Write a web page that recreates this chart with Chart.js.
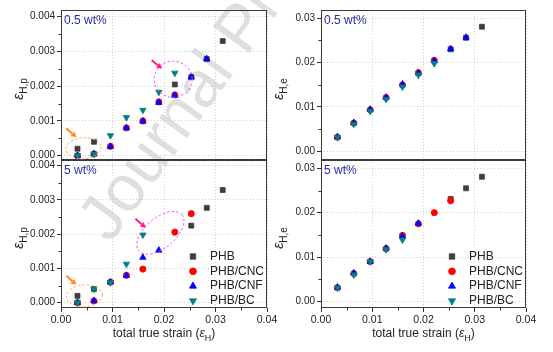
<!DOCTYPE html>
<html lang="en">
<head>
<meta charset="UTF-8">
<title>Hencky strain components</title>
<script src="https://cdn.jsdelivr.net/npm/chart.js"></script>
<style>
  body { margin: 0; background: #fff; }
  #wrap { position: relative; width: 553px; height: 352px; overflow: hidden; }
  #wrap canvas { position: absolute; }
</style>
</head>
<body>
<div id="wrap">
  <canvas id="mark" width="553" height="352" style="left:0;top:0"></canvas>
  <canvas id="tl" width="285" height="170" style="left:0;top:0"></canvas>
  <canvas id="bl" width="285" height="202" style="left:0;top:150px"></canvas>
  <canvas id="tr" width="281" height="170" style="left:272px;top:0"></canvas>
  <canvas id="br" width="281" height="202" style="left:272px;top:150px"></canvas>
</div>
<script>
// total true strain at each test step
const strain = [0.0032, 0.0064, 0.0096, 0.0127, 0.0159, 0.0190, 0.0221, 0.0253, 0.0283, 0.0314];
const seriesNames = ['PHB', 'PHB/CNC', 'PHB/CNF', 'PHB/BC'];

// plastic part, 0.5 wt%
const plasticLowPHB = [0.0002, 0.0004, null, null, null, null, 0.00205, 0.00226, 0.00278, 0.0033];
const plasticLowCNC = [0.0, 0.00005, 0.00027, 0.0008, 0.001, 0.00155, 0.00175, null, null, null];
const plasticLowCNF = [0.0, 0.00005, 0.00026, 0.0008, 0.00099, 0.00153, 0.00173, 0.00227, 0.00279, null];
const plasticLowBC  = [0.0, 0.00005, 0.00058, 0.0011, 0.00131, 0.00183, 0.00238, null, null, null];

// plastic part, 5 wt%
const plasticHighPHB = [0.0002, 0.0004, null, null, null, null, null, 0.00225, 0.00277, 0.00329];
const plasticHighCNC = [0.0, 0.00005, 0.0006, 0.0008, 0.00098, null, 0.00206, 0.0026, null, null];
const plasticHighCNF = [0.0, 0.00006, 0.0006, 0.00079, 0.00132, 0.00153, null, null, null, null];
const plasticHighBC  = [0.0, 0.0004, 0.00059, 0.00113, 0.00198, null, null, null, null, null];

// elastic part, 0.5 wt%
const elasticLowPHB = [null, null, null, null, null, null, null, 0.0230, 0.0256, 0.0281];
const elasticLowCNC = [0.0031, 0.0063, 0.0093, 0.0121, 0.0149, 0.0177, 0.0205, null, null, null];
const elasticLowCNF = [0.0032, 0.0064, 0.0094, 0.0121, 0.0151, 0.0176, 0.0204, 0.0231, 0.0257, null];
const elasticLowBC  = [0.0031, 0.0061, 0.0090, 0.0117, 0.0145, 0.0172, 0.0198, null, null, null];

// elastic part, 5 wt%
const elasticHighPHB = [null, null, null, null, null, null, null, 0.0231, 0.0255, 0.0281];
const elasticHighCNC = [0.0031, 0.0063, 0.0090, 0.0119, 0.0149, 0.0175, 0.0200, 0.0227, null, null];
const elasticHighCNF = [0.0032, 0.0064, 0.0090, 0.0120, 0.0147, 0.0176, null, null, null, null];
const elasticHighBC  = [0.0031, 0.0060, 0.0090, 0.0117, 0.0139, null, null, null, null, null];

const FONT = '"Liberation Sans", Arial, sans-serif';
const looks = [
  { color: '#3d3d3d', style: 'rect', radius: 3.5, rotation: 0, order: 4 },
  { color: '#ff0000', style: 'circle', radius: 3.1, rotation: 0, order: 3 },
  { color: '#0000ff', style: 'triangle', radius: 3.7, rotation: 0, order: 2 },
  { color: '#008080', style: 'triangle', radius: 3.7, rotation: 180, order: 1 }
];

function pts(vals) {
  return strain.map((x, i) => ({ x: x, y: vals[i] })).filter(p => p.y !== null);
}

// watermark
(function () {
  const ctx = document.getElementById('mark').getContext('2d');
  ctx.save();
  ctx.translate(110, 244);
  ctx.rotate(-54 * Math.PI / 180);
  ctx.font = '65px ' + FONT;
  ctx.fillStyle = '#dfdfdf';
  ctx.fillText('Journal Pre-proof', 0, 0);
  ctx.restore();
})();

function arrow(ctx, x1, y1, x2, y2, color) {
  const ang = Math.atan2(y2 - y1, x2 - x1), head = 5.5, half = 3;
  const bx = x2 - head * Math.cos(ang), by = y2 - head * Math.sin(ang);
  ctx.setLineDash([]);
  ctx.strokeStyle = color;
  ctx.fillStyle = color;
  ctx.lineWidth = 2;
  ctx.beginPath();
  ctx.moveTo(x1, y1);
  ctx.lineTo(bx, by);
  ctx.stroke();
  ctx.beginPath();
  ctx.moveTo(x2, y2);
  ctx.lineTo(bx + half * Math.sin(ang), by - half * Math.cos(ang));
  ctx.lineTo(bx - half * Math.sin(ang), by + half * Math.cos(ang));
  ctx.closePath();
  ctx.fill();
}

// draws subscripted epsilon, e.g. eps_{H,p}
function epsText(ctx, pre, sub, post, size, x, y) {
  const main = size + 'px ' + FONT, ital = 'italic ' + size + 'px ' + FONT, small = Math.round(size * 0.72) + 'px ' + FONT;
  ctx.font = main; const w0 = ctx.measureText(pre).width;
  ctx.font = ital; const w1 = ctx.measureText('\u03b5').width;
  ctx.font = small; const w2 = ctx.measureText(sub).width;
  ctx.font = main; const w3 = ctx.measureText(post).width;
  let cx = x - (w0 + w1 + w2 + w3) / 2;
  ctx.textAlign = 'left';
  ctx.textBaseline = 'alphabetic';
  ctx.font = main; ctx.fillText(pre, cx, y); cx += w0;
  ctx.font = ital; ctx.fillText('\u03b5', cx, y); cx += w1;
  ctx.font = small; ctx.fillText(sub, cx, y + size * 0.3); cx += w2;
  ctx.font = main; ctx.fillText(post, cx, y);
}

const panelPlugin = {
  id: 'panel',
  beforeDatasetsDraw(chart, args, o) {
    const { ctx, chartArea: a } = chart;
    const x = chart.scales.x, y = chart.scales.y;
    ctx.save();
    ctx.strokeStyle = '#333';
    ctx.lineWidth = 1;
    ctx.setLineDash([]);
    ctx.beginPath();
    for (let v = o.yMinor; v < y.max; v += o.yMinor * 2) {
      const py = Math.round(y.getPixelForValue(v)) + 0.5;
      ctx.moveTo(a.left, py);
      ctx.lineTo(a.left - 2.5, py);
    }
    if (o.bottom) {
      for (let v = 0.005; v < x.max; v += 0.01) {
        const px = Math.round(x.getPixelForValue(v)) + 0.5;
        ctx.moveTo(px, a.bottom);
        ctx.lineTo(px, a.bottom + 2.5);
      }
    }
    ctx.stroke();
    ctx.strokeStyle = '#3a3a3a';
    ctx.strokeRect(a.left + 0.5, a.top + 0.5, a.right - a.left - 1, a.bottom - a.top - 1);
    ctx.restore();
  },
  afterDatasetsDraw(chart, args, o) {
    const { ctx, chartArea: a } = chart;
    const x = chart.scales.x, y = chart.scales.y;
    ctx.save();
    // annotations
    (o.notes || []).forEach(n => {
      const cx = x.getPixelForValue(n.x), cy = y.getPixelForValue(n.y);
      ctx.setLineDash([2.5, 2]);
      ctx.strokeStyle = n.ring;
      ctx.lineWidth = 1;
      ctx.beginPath();
      ctx.ellipse(cx, cy, n.rx, n.ry, n.rot * Math.PI / 180, 0, Math.PI * 2);
      ctx.stroke();
      arrow(ctx, cx + n.arrow[0], cy + n.arrow[1], cx + n.arrow[2], cy + n.arrow[3], n.color);
    });
    // panel label
    ctx.fillStyle = '#2a2aa8';
    ctx.font = '12px ' + FONT;
    ctx.textAlign = 'left';
    ctx.textBaseline = 'middle';
    ctx.fillText(o.label, a.left + 3, a.top + 11);
    // y title
    ctx.fillStyle = '#222';
    ctx.save();
    ctx.translate(o.yTitleX, (a.top + a.bottom) / 2 + 4);
    ctx.rotate(-Math.PI / 2);
    epsText(ctx, '', o.ySub, '', 14, 0, 0);
    ctx.restore();
    if (o.bottom) {
      epsText(ctx, 'total true strain (', 'H', ')', 12, (a.left + a.right) / 2, a.bottom + 29);
      // legend
      seriesNames.forEach((name, k) => {
        const lk = looks[k];
        const ly = a.top + 96.5 + k * 14.8;
        ctx.fillStyle = lk.color;
        ctx.strokeStyle = lk.color;
        ctx.lineWidth = 0.8;
        Chart.helpers.drawPoint(ctx, { pointStyle: lk.style, radius: lk.radius * 1.1, rotation: lk.rotation, borderWidth: 0.8 }, a.right - 74, ly);
        ctx.fillStyle = '#222';
        ctx.font = '12px ' + FONT;
        ctx.textBaseline = 'middle';
        ctx.fillText(name, a.right - 57, ly);
      });
    }
    ctx.restore();
  }
};

function makeChart(id, series, cfg) {
  const datasets = series.map((vals, k) => ({
    label: seriesNames[k],
    data: pts(vals),
    pointStyle: looks[k].style,
    pointRadius: looks[k].radius,
    pointRotation: looks[k].rotation,
    backgroundColor: looks[k].color,
    borderColor: looks[k].color,
    borderWidth: 0.8,
    order: looks[k].order
  }));
  return new Chart(document.getElementById(id), {
    type: 'scatter',
    data: { datasets: datasets },
    options: {
      responsive: false,
      animation: false,
      events: [],
      layout: { padding: { top: 10, right: cfg.padRight, bottom: 0, left: 0 } },
      plugins: {
        legend: { display: false },
        tooltip: { enabled: false },
        panel: cfg.panel
      },
      scales: {
        x: {
          type: 'linear', min: 0, max: 0.04,
          afterFit: s => { s.height = cfg.xHeight; s.paddingLeft = 0; s.paddingRight = 0; },
          ticks: {
            display: cfg.panel.bottom, stepSize: 0.01, includeBounds: false, maxRotation: 0,
            padding: 2, color: '#222', font: { family: FONT, size: 10.5 },
            callback: v => v.toFixed(2)
          },
          grid: {
            color: '#cfcfcf', borderDash: [1, 2], drawTicks: cfg.panel.bottom, tickLength: 4,
            tickColor: '#333', tickWidth: 1, tickBorderDash: []
          },
          border: { display: false, dash: [1, 2] }
        },
        y: {
          type: 'linear', min: cfg.yMin, max: cfg.yMax,
          afterFit: s => { s.width = cfg.yWidth; s.paddingTop = 0; s.paddingBottom = 0; },
          ticks: {
            stepSize: cfg.yStep, includeBounds: false, padding: 2, color: '#222',
            font: { family: FONT, size: 10 },
            callback: v => v.toFixed(cfg.yDigits)
          },
          grid: {
            color: '#cfcfcf', borderDash: [1, 2], drawTicks: true, tickLength: 4,
            tickColor: '#333', tickWidth: 1, tickBorderDash: []
          },
          border: { display: false, dash: [1, 2] }
        }
      }
    },
    plugins: [panelPlugin]
  });
}

const orange = { ring: '#ffa64d', color: '#ff8c1a' };
const pink = { ring: '#f050f0', color: '#ff1a8c' };

makeChart('tl', [plasticLowPHB, plasticLowCNC, plasticLowCNF, plasticLowBC], {
  padRight: 18, xHeight: 10, yWidth: 61, yMin: -0.000124, yMax: 0.004193, yStep: 0.001, yDigits: 3,
  panel: {
    label: '0.5 wt%', ySub: 'H,p', yTitleX: 23, yMinor: 0.0005, bottom: false,
    notes: [
      { x: 0.00439, y: 0.000213, rx: 17.5, ry: 10.5, rot: -4, ring: orange.ring, color: orange.color, arrow: [-17.5, -20, -7, -11] },
      { x: 0.02178, y: 0.0022, rx: 19, ry: 18, rot: 0, ring: pink.ring, color: pink.color, arrow: [-21.5, -19, -11, -10.5] }
    ]
  }
});
makeChart('bl', [plasticHighPHB, plasticHighCNC, plasticHighCNF, plasticHighBC], {
  padRight: 18, xHeight: 44, yWidth: 61, yMin: -0.000155, yMax: 0.004166, yStep: 0.001, yDigits: 3,
  panel: {
    label: '5 wt%', ySub: 'H,p', yTitleX: 23, yMinor: 0.0005, bottom: true,
    notes: [
      { x: 0.00455, y: 0.0002, rx: 18, ry: 11, rot: -4, ring: orange.ring, color: orange.color, arrow: [-18, -20, -8, -11] },
      { x: 0.0193, y: 0.00204, rx: 28, ry: 15, rot: -40, ring: pink.ring, color: pink.color, arrow: [-25, -14, -14.5, -5] }
    ]
  }
});
makeChart('tr', [elasticLowPHB, elasticLowCNC, elasticLowCNF, elasticLowBC], {
  padRight: 27, xHeight: 10, yWidth: 49, yMin: -0.00203, yMax: 0.03188, yStep: 0.01, yDigits: 2,
  panel: { label: '0.5 wt%', ySub: 'H,e', yTitleX: 11, yMinor: 0.005, bottom: false, notes: [] }
});
makeChart('br', [elasticHighPHB, elasticHighCNC, elasticHighCNF, elasticHighBC], {
  padRight: 27, xHeight: 44, yWidth: 49, yMin: -0.00146, yMax: 0.03187, yStep: 0.01, yDigits: 2,
  panel: { label: '5 wt%', ySub: 'H,e', yTitleX: 11, yMinor: 0.005, bottom: true, notes: [] }
});
</script>
</body>
</html>
